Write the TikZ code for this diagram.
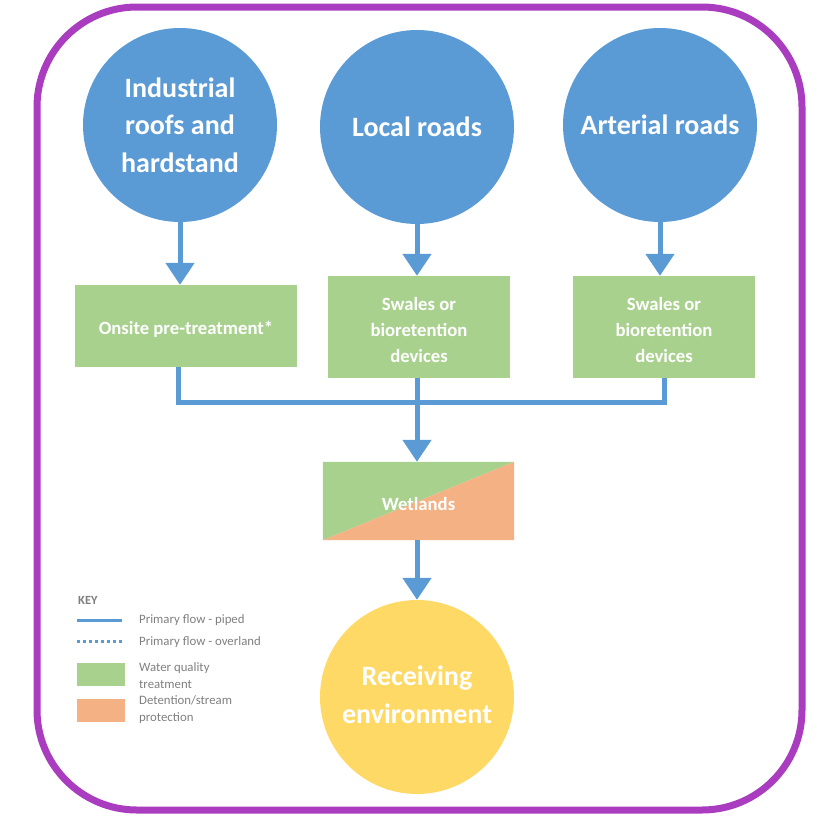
\documentclass[tikz,border=0pt]{standalone}
\usepackage{fontspec}
\setmainfont{Carlito}
\usetikzlibrary{arrows.meta,calc}
\definecolor{flowblue}{HTML}{5B9BD5}
\definecolor{wqgreen}{HTML}{A9D18E}
\definecolor{detorange}{HTML}{F4B183}
\definecolor{recyellow}{HTML}{FFD966}
\definecolor{framepurple}{HTML}{A93CBF}
\definecolor{keygray}{HTML}{7F7F7F}
\begin{document}
\begin{tikzpicture}[x=1pt,y=-1pt,
  source/.style={circle,fill=flowblue,minimum size=194pt,inner sep=0pt,
    text=white,font=\bfseries\fontsize{28}{37.5}\selectfont,align=center},
  sink/.style={source,fill=recyellow},
  treat/.style={rectangle,fill=wqgreen,inner sep=0pt},
  treattext/.style={text=white,font=\bfseries\fontsize{18.7}{26}\selectfont,
    align=center,inner sep=0pt,yshift=-3pt},
  pipe/.style={draw=flowblue,line width=5pt},
  flow/.style={pipe,-{Triangle[width=28pt,length=22pt]}},
  keytext/.style={anchor=west,text=keygray,font=\fontsize{12.8}{17}\selectfont,align=left,inner sep=0pt}]
\useasboundingbox (0,0) rectangle (821,817);
% outer frame
\draw[framepurple,line width=7pt,rounded corners=100pt] (37,7) rectangle (802,810);
% sources
\node[source] (ind) at (180,125) {Industrial\\roofs and\\hardstand};
\node[source] (loc) at (417,127) {Local roads};
\node[source] (art) at (660,125) {Arterial roads};
% treatment devices
\node[treat,minimum width=222pt,minimum height=82pt] (onsite) at (186,326) {};
\node[treattext] (onsitet) at (onsite.center) {Onsite pre-treatment*};
\node[treat,minimum width=182pt,minimum height=102pt] (sw1) at (419,327) {};
\node[treattext] (sw1t) at (sw1.center) {Swales or\\bioretention\\devices};
\node[treat,minimum width=182pt,minimum height=102pt] (sw2) at (664,327) {};
\node[treattext] (sw2t) at (sw2.center) {Swales or\\bioretention\\devices};
% wetlands: split fill
\node[rectangle,minimum width=191pt,minimum height=78pt,inner sep=0pt] (wet) at (418.5,501) {};
\fill[wqgreen] (wet.south west) -- (wet.north west) -- (wet.north east) -- cycle;
\fill[detorange] (wet.south west) -- (wet.north east) -- (wet.south east) -- cycle;
\node[treattext] (wett) at (wet.center) {Wetlands};
% receiving environment
\node[sink] (rec) at (417,697) {};
\node[text=white,font=\bfseries\fontsize{28}{37.5}\selectfont,align=center,yshift=2pt] (rect) at (rec.center) {Receiving\\environment};
% flows
\draw[flow] (ind.south) -- (ind.south |- onsite.north);
\draw[flow] (loc.south) -- (loc.south |- sw1.north);
\draw[flow] (art.south) -- (art.south |- sw2.north);
\coordinate (junc) at (178,402);
\draw[pipe] (onsite.south -| junc) -- (junc) -| (sw2.south);
\draw[flow] (sw1.south -| loc.south) -- (loc.south |- wet.north);
\draw[flow] (wet.south -| rec.north) -- (rec.north);
% key
\node[anchor=west,text=keygray,font=\bfseries\fontsize{12.5}{14}\selectfont,inner sep=0pt] (key) at (78,600) {KEY};
\coordinate (k1a) at (77,620); \coordinate (k1b) at (122,620);
\draw[draw=flowblue,line width=3pt] (k1a) -- (k1b);
\node[keytext] (kt1) at (139,620) {Primary flow - piped};
\coordinate (k2a) at (77,641); \coordinate (k2b) at (122,641);
\draw[draw=flowblue,line width=3pt,dash pattern=on 3pt off 3pt] (k2a) -- (k2b);
\node[keytext] (kt2) at (139,642) {Primary flow - overland};
\node[rectangle,fill=wqgreen,minimum width=48pt,minimum height=23pt,inner sep=0pt] (kg) at (101,674) {};
\node[keytext] (kt3) at (139,676) {Water quality\\treatment};
\node[rectangle,fill=detorange,minimum width=48pt,minimum height=23pt,inner sep=0pt] (ko) at (101,710) {};
\node[keytext] (kt4) at (139,710) {Detention/stream\\protection};
\end{tikzpicture}
\end{document}
